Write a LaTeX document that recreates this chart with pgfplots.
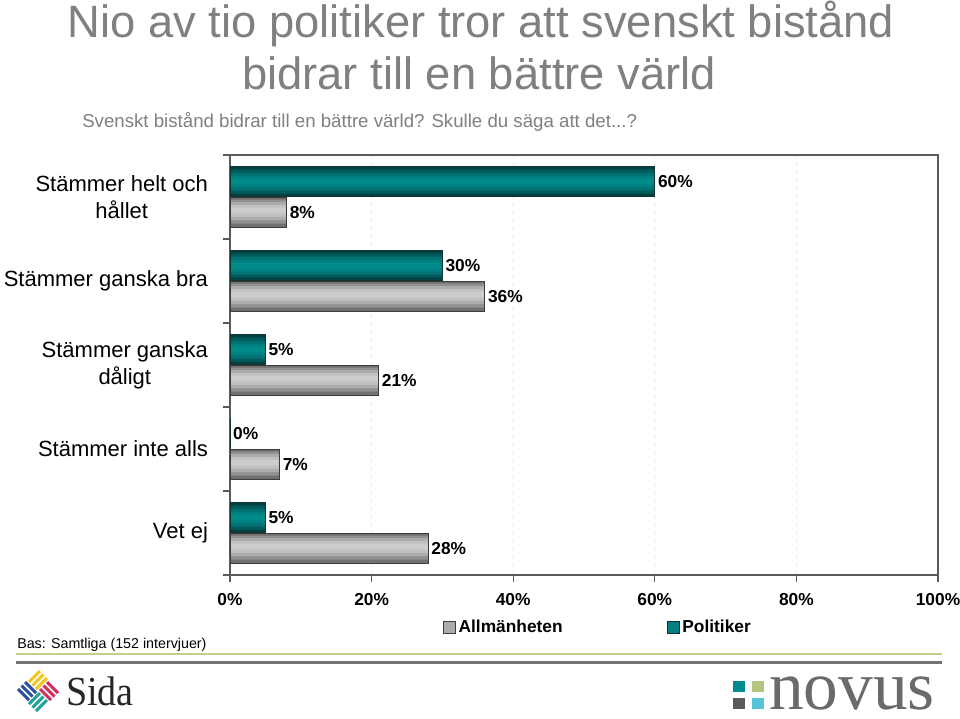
\documentclass[border=0pt]{standalone}
\usepackage{fontspec}
\setmainfont{Liberation Sans}
\newfontfamily\logofont{Liberation Serif}
\usepackage{pgfplots}
\pgfplotsset{compat=1.18}

\definecolor{titlegray}{RGB}{128,128,128}
\definecolor{teal1}{RGB}{0,66,66}
\definecolor{teal2}{RGB}{0,92,92}
\definecolor{teal3}{RGB}{0,112,112}
\definecolor{teal4}{RGB}{0,128,128}
\definecolor{teal5}{RGB}{0,138,138}
\definecolor{tealline}{RGB}{20,50,50}
\definecolor{gray1}{RGB}{112,112,112}
\definecolor{gray2}{RGB}{145,145,145}
\definecolor{gray3}{RGB}{172,172,172}
\definecolor{gray4}{RGB}{192,192,192}
\definecolor{gray5}{RGB}{205,205,205}
\definecolor{grayline}{RGB}{60,60,60}
\definecolor{axisgray}{RGB}{90,90,90}
\definecolor{sepgreen}{RGB}{197,207,138}
\definecolor{sepgray}{RGB}{115,115,115}
\definecolor{sidayellow}{RGB}{246,196,30}
\definecolor{sidared}{RGB}{214,46,92}
\definecolor{sidablue}{RGB}{43,79,162}
\definecolor{sidagreen}{RGB}{31,164,154}
\definecolor{novusteal}{RGB}{0,138,143}
\definecolor{novusgreen}{RGB}{179,197,127}
\definecolor{novusdark}{RGB}{90,90,90}
\definecolor{novuscyan}{RGB}{86,195,215}
\definecolor{novustext}{RGB}{106,106,106}

\pgfplotstableread{
y allm pol
4 8 60
3 36 30
2 21 5
1 7 0
0 28 5
}\svardata

\begin{document}
\begin{tikzpicture}
\path[use as bounding box, fill=white] (0,0) rectangle (720pt,538.5pt);

\begin{axis}[
  at={(172.5pt,107.25pt)}, anchor=south west,
  width=531pt, height=315pt, scale only axis,
  /pgf/number format/assume math mode=true,
  xbar,
  xmin=0, xmax=100, ymin=-0.5, ymax=4.5,
  xtick={0,20,...,100},
  xticklabel={\pgfmathprintnumber{\tick}\%},
  xticklabel style={font=\bfseries\fontsize{13}{15}\selectfont, yshift=-5pt},
  ytick={-0.5,0.5,...,4.5},
  yticklabels={Vet ej, Stämmer inte alls, Stämmer ganska\\dåligt, Stämmer ganska bra, Stämmer helt och\\hållet},
  y tick label as interval,
  yticklabel style={font=\fontsize{16.5}{20}\selectfont, align=center, xshift=-8pt},
  xtick pos=lower, ytick pos=left,
  tick align=outside, major tick length=5pt,
  tick style={draw=axisgray, line width=0.8pt},
  axis line style={draw=axisgray, line width=1.3pt},
  xmajorgrids, grid style={dashed, draw=gray!18, line width=0.5pt},
  every node near coord/.append style={font=\bfseries\fontsize{13}{15}\selectfont, text=black, inner sep=2pt},
  legend columns=2,
  legend style={draw=none, fill=none, at={(0.52,-0.124)}, anchor=center,
    font=\bfseries\fontsize{13}{15}\selectfont,
    /tikz/every even column/.append style={column sep=76pt}},
  legend image code/.code={\draw[#1] (0pt,-4.5pt) rectangle (9pt,4.5pt);},
]
% Allmänheten: lager för toning
\addplot[forget plot, draw=none, fill=gray1, bar shift=-11.6pt, bar width=22.5pt] table[x=allm, y=y] {\svardata};
\addplot[forget plot, draw=none, fill=gray2, bar shift=-10.9pt, bar width=18pt] table[x=allm, y=y] {\svardata};
\addplot[forget plot, draw=none, fill=gray3, bar shift=-10.6pt, bar width=13.5pt] table[x=allm, y=y] {\svardata};
\addplot[forget plot, draw=none, fill=gray4, bar shift=-10.4pt, bar width=9pt] table[x=allm, y=y] {\svardata};
\addplot[forget plot, draw=none, fill=gray5, bar shift=-10.3pt, bar width=4.5pt] table[x=allm, y=y] {\svardata};
\addplot[forget plot, draw=grayline, line width=0.8pt, fill=none, bar shift=-11.6pt, bar width=22.5pt,
  nodes near coords={\pgfmathprintnumber{\pgfplotspointmeta}\%}] table[x=allm, y=y] {\svardata};
% Politiker
\addplot[forget plot, draw=none, fill=teal1, bar shift=11.6pt, bar width=22.5pt] table[x=pol, y=y] {\svardata};
\addplot[forget plot, draw=none, fill=teal2, bar shift=11.6pt, bar width=18pt] table[x=pol, y=y] {\svardata};
\addplot[forget plot, draw=none, fill=teal3, bar shift=11.6pt, bar width=13.5pt] table[x=pol, y=y] {\svardata};
\addplot[forget plot, draw=none, fill=teal4, bar shift=11.6pt, bar width=9pt] table[x=pol, y=y] {\svardata};
\addplot[forget plot, draw=none, fill=teal5, bar shift=11.6pt, bar width=4.5pt] table[x=pol, y=y] {\svardata};
\addplot[forget plot, draw=tealline, line width=0.8pt, fill=none, bar shift=11.6pt, bar width=22.5pt,
  nodes near coords={\pgfmathprintnumber{\pgfplotspointmeta}\%}] table[x=pol, y=y] {\svardata};

\addlegendimage{draw=grayline, line width=0.8pt, fill=gray3}
\addlegendentry{Allmänheten}
\addlegendimage{draw=tealline, line width=0.8pt, fill=teal4}
\addlegendentry{Politiker}
\end{axis}

\begin{scope}[x=0.75pt, y=-0.75pt, yshift=538.5pt]
% rubrik
\node[text=titlegray, font=\fontsize{34}{40}\selectfont, anchor=base, inner sep=0] at (481,38) {Nio av tio politiker tror att svenskt bistånd};
\node[text=titlegray, font=\fontsize{34}{40}\selectfont, anchor=base, inner sep=0] at (479,90) {bidrar till en bättre värld};
\node[text=titlegray, font=\fontsize{14}{16}\selectfont, anchor=base west, inner sep=0] at (82,128) {Svenskt bistånd bidrar till en bättre värld? Skulle du säga att det...?};

% bas och avgränsare
\node[font=\fontsize{10.7}{12}\selectfont, anchor=base west, inner sep=0] at (17,648) {Bas: Samtliga (152 intervjuer)};
\draw[sepgreen, line width=1.5pt] (16,654) -- (942,654);
\draw[sepgray, line width=2.2pt] (16,662.5) -- (942,662.5);

% Sida-logga
\begin{scope}[line width=2.2pt]
\foreach \t in {2,5.5,9} {
  \draw[sidayellow] (27+\t,680+\t) -- (38+\t,669+\t);
  \draw[sidared] (38+\t,691-\t) -- (49+\t,702-\t);
  \draw[sidablue] (16+\t,691-\t) -- (27+\t,702-\t);
  \draw[sidagreen] (27+\t,702+\t) -- (38+\t,691+\t);
}
\end{scope}
\node[font=\logofont\fontsize{31}{34}\selectfont, anchor=base west, inner sep=0, xscale=0.92, text=black!85] at (66,705) {Sida};

% Novus-logga
\fill[novusteal] (733,681) rectangle (745,692);
\fill[novusgreen] (752,681) rectangle (764,692);
\fill[novusdark] (733,698) rectangle (745,709);
\fill[novuscyan] (752,698) rectangle (764,709);
\node[font=\logofont\fontsize{52}{54}\selectfont, anchor=base west, inner sep=0, text=novustext] at (769,709) {novus};
\end{scope}
\end{tikzpicture}
\end{document}
